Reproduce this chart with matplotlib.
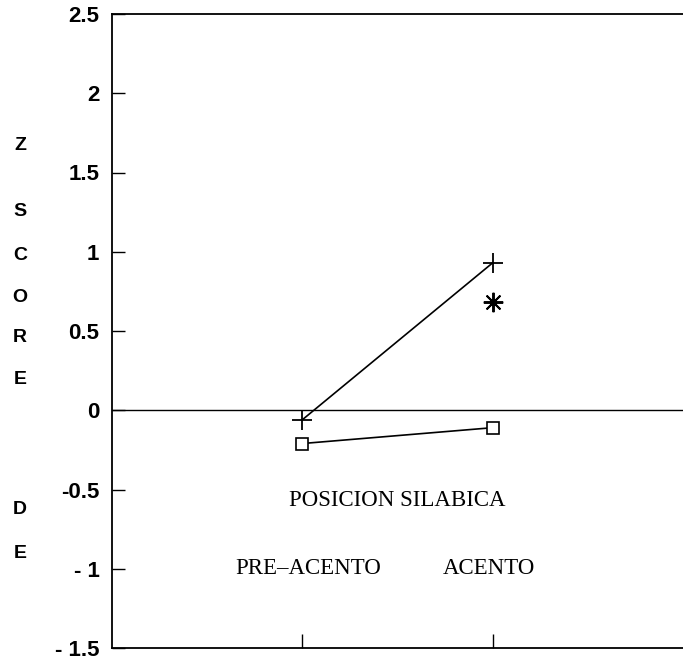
import matplotlib
matplotlib.use("Agg")
import matplotlib.pyplot as plt

categories = ["PRE–ACENTO", "ACENTO"]
x_pos = [1, 2]
plus_series = [-0.06, 0.93]
square_series = [-0.21, -0.11]
star_x = [2]
star_y = [0.68]
yticks = [-1.5, -1, -0.5, 0, 0.5, 1, 1.5, 2, 2.5]
ytick_labels = ["- 1.5", "- 1", "-0.5", "0", "0.5", "1", "1.5", "2", "2.5"]
ylabel_letters = ["Z", "S", "C", "O", "R", "E", "D", "E"]
ylabel_pos = [145, 212, 255, 297, 338, 380, 510, 553]

fig = plt.figure(figsize=(6.83, 6.63), dpi=100)
ax = fig.add_axes([112/683, 15/663, 1 - 112/683, (648-14)/663])
ax.set_xlim(0, 3)
ax.set_ylim(-1.5, 2.5)

ax.axhline(0, color="black", lw=1.0)
ax.plot(x_pos, plus_series, color="black", lw=1.2, marker="+", ms=14, mew=1.3)
ax.plot(x_pos, square_series, color="black", lw=1.2, marker="s", ms=9,
        mfc="white", mec="black", mew=1.2)
ax.plot(star_x, star_y, ls="none", marker=(8, 2, 0), ms=14, mew=1.4, color="black")

for s in ["left", "top", "bottom"]:
    ax.spines[s].set_linewidth(1.3)
ax.spines["right"].set_visible(False)

ax.set_yticks(yticks)
ax.set_yticklabels(ytick_labels, fontfamily="Liberation Sans", fontweight="bold", fontsize=16)
ax.tick_params(axis="y", direction="in", length=9, width=1.0, pad=9)
ax.set_xticks(x_pos)
ax.set_xticklabels([])
ax.tick_params(axis="x", direction="in", length=10, width=1.0)

serif = dict(fontfamily="Liberation Serif", fontsize=16.5, ha="center", va="center", color="black")
ax.text(1.5, -0.57, "POSICION SILABICA", **serif)
text_x = [1.03, 1.98]
for xp, lab in zip(text_x, categories):
    ax.text(xp, -1.0, lab, **serif)

for lt, yp in zip(ylabel_letters, ylabel_pos):
    fig.text(20/683, 1 - yp/663, lt, ha="center", va="center",
             fontfamily="Liberation Sans", fontweight="bold", fontsize=14)

fig.savefig("out.png", dpi=100)
